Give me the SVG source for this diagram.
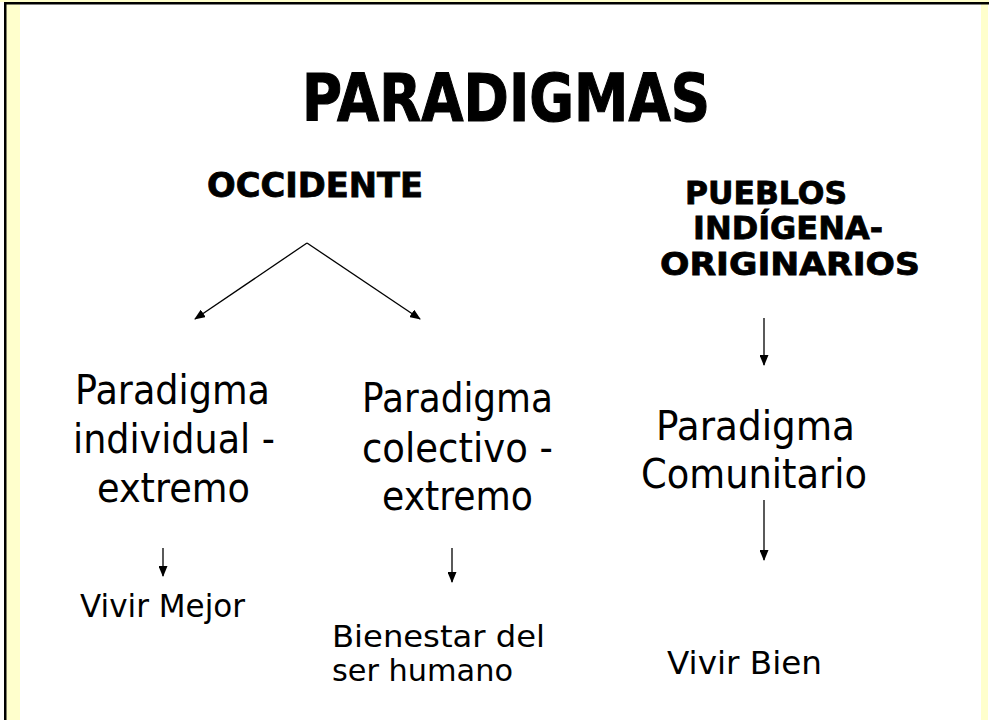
<svg xmlns="http://www.w3.org/2000/svg" width="989" height="720" viewBox="0 0 989 720">
<style>
.h{font-family:"DejaVu Sans","Liberation Sans",sans-serif;font-weight:bold;fill:#000;stroke:#000;stroke-width:0.8}
.t{font-family:"DejaVu Sans","Liberation Sans",sans-serif;fill:#000}
.c{stroke:#000;stroke-width:1.3;fill:none;marker-end:url(#ah)}
</style>
<defs>
<marker id="ah" markerWidth="11" markerHeight="9" refX="10" refY="4.5" orient="auto" markerUnits="userSpaceOnUse">
<path d="M0,0 L11,4.5 L0,9 Z" fill="#000"/>
</marker>
</defs>
<rect width="989" height="720" fill="#fff"/>
<g id="frame">
<rect x="0" y="0" width="989" height="2" fill="#FFFFCC"/>
<rect x="6" y="4" width="14" height="716" fill="#FFFFCC"/>
<rect x="981" y="4" width="7" height="716" fill="#FFFFCC"/>
<rect x="4" y="2" width="985" height="2.5" fill="#000"/>
<rect x="4" y="2" width="2.5" height="718" fill="#000"/>
</g>
<g id="title"><text class="h" x="302" y="121" font-size="66" textLength="408" lengthAdjust="spacingAndGlyphs" style="stroke-width:1.2">PARADIGMAS</text></g>
<g id="occidente"><text class="h" x="207" y="197" font-size="33" textLength="216" lengthAdjust="spacingAndGlyphs">OCCIDENTE</text></g>
<g id="pueblos">
<text class="h" x="685" y="204" font-size="32" textLength="162" lengthAdjust="spacingAndGlyphs">PUEBLOS</text>
<text class="h" x="693" y="239" font-size="32" textLength="190" lengthAdjust="spacingAndGlyphs">INDÍGENA-</text>
<text class="h" x="660" y="275" font-size="32" textLength="260" lengthAdjust="spacingAndGlyphs">ORIGINARIOS</text>
</g>
<g id="individual">
<text class="t" x="75" y="404" font-size="40" textLength="195" lengthAdjust="spacingAndGlyphs">Paradigma</text>
<text class="t" x="73" y="453" font-size="40" textLength="202" lengthAdjust="spacingAndGlyphs">individual -</text>
<text class="t" x="97" y="502" font-size="40" textLength="153" lengthAdjust="spacingAndGlyphs">extremo</text>
</g>
<g id="colectivo">
<text class="t" x="362" y="412" font-size="40" textLength="191" lengthAdjust="spacingAndGlyphs">Paradigma</text>
<text class="t" x="362" y="462" font-size="40" textLength="191" lengthAdjust="spacingAndGlyphs">colectivo -</text>
<text class="t" x="382" y="510" font-size="40" textLength="151" lengthAdjust="spacingAndGlyphs">extremo</text>
</g>
<g id="comunitario">
<text class="t" x="656" y="440" font-size="40" textLength="199" lengthAdjust="spacingAndGlyphs">Paradigma</text>
<text class="t" x="641" y="488" font-size="40" textLength="226" lengthAdjust="spacingAndGlyphs">Comunitario</text>
</g>
<g id="vivirmejor"><text class="t" x="80" y="617" font-size="32" textLength="165" lengthAdjust="spacingAndGlyphs">Vivir Mejor</text></g>
<g id="bienestar">
<text class="t" x="332" y="647" font-size="30" textLength="213" lengthAdjust="spacingAndGlyphs">Bienestar del</text>
<text class="t" x="332" y="681" font-size="30" textLength="181" lengthAdjust="spacingAndGlyphs">ser humano</text>
</g>
<g id="vivirbien"><text class="t" x="667" y="674" font-size="32" textLength="155" lengthAdjust="spacingAndGlyphs">Vivir Bien</text></g>
<g id="connectors">
<path class="c" d="M307,243 L195,319"/>
<path class="c" d="M307,243 L420,319"/>
<path class="c" d="M764,318 L764,365"/>
<path class="c" d="M163,548 L163,576"/>
<path class="c" d="M452,548 L452,582"/>
<path class="c" d="M764,500 L764,560"/>
</g>
</svg>
